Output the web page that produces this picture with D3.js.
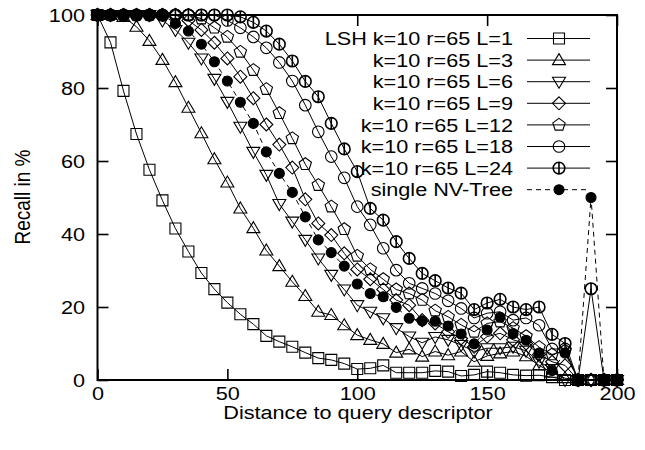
<!DOCTYPE html>
<html><head><meta charset="utf-8">
<script src="https://cdn.jsdelivr.net/npm/d3@7"></script>
<style>body{margin:0;background:#fff}svg{display:block}text{font-family:"Liberation Sans",Arial,sans-serif;fill:#000}</style>
</head><body><svg id="c" width="645" height="450"></svg>
<script>
const xs = d3.range(0, 201, 5);
const seriesNames = ["LSH k=10 r=65 L=1","k=10 r=65 L=3","k=10 r=65 L=6","k=10 r=65 L=9","k=10 r=65 L=12","k=10 r=65 L=18","k=10 r=65 L=24","single NV-Tree"];
const markers = ["square","triUp","triDown","diamond","pentagon","circle","circleBar","dot"];
const L1 = [100,92.5,79.2,67.4,57.6,49.2,41.5,35.2,29.3,24.9,21.2,18,15.3,12.1,10.5,9.1,7.5,6,5.5,4.5,3,3.2,4,2,2,2,2.5,2.3,1.1,1.4,2.3,2,1.4,1.2,1.3,0.8,0,0,0,0,0];
const L3 = [100,100,99.5,96.8,92.9,87.7,81.6,74.6,67.6,60.5,54.1,47,41.6,35.5,31.2,26.9,23,18.7,17.8,15,12.3,11,9.9,7.5,8.4,6.4,7.8,6.8,7.8,5,6.6,7.3,7.8,6.5,4,2,0.5,0,0,0,0];
const L6 = [100,100,100,100,100,98.5,95.9,92.4,88.1,82.5,76.2,69.4,62.5,56.2,48.2,43.4,38.4,33.3,28.8,24.8,20.5,18.7,16.9,14.2,11.9,10.2,11.8,11,9.6,7.8,8.7,8.7,9.1,8,5,3,0,0,0,0,0];
const L9 = [100,100,100,100,100,100,100,98.5,95.9,92.4,88.1,83.1,77.2,70,64.5,58.2,49.5,42.9,39.7,34.7,30.3,27.6,24.8,21.9,20.5,16.4,15.5,13.2,11.4,9.1,11.9,12.8,11,10,7,5,4,0,0,0,0];
const L12 = [100,100,100,100,100,100,100,100,99,96.5,94,89.9,84.9,79.7,73.1,66.2,59.1,53.4,47.5,41.3,34,30.3,27.6,24.8,23.7,21.9,19,17.3,15.1,13.2,15.5,16,14.2,12,9,7,8,0,0,0,0];
const L18 = [100,100,100,100,100,100,100,100,100,100,98.5,96.5,94,91,87,81.9,75.3,68,61.2,55.4,47.5,42.5,36.1,30.1,26.5,25.1,23.7,21.7,19.6,17,18.3,18.7,16.4,17,15,8.5,8.5,0,0,0,0];
const L24 = [100,100,100,100,100,100,100,100,100,100,100,99.5,98,95.6,92,87.4,81.8,77.6,70.3,63.3,57.1,47,43.8,37.9,33.3,29.2,27.2,25.2,23.8,19.3,21.1,22.1,20,19.3,20,12.5,10,0,25,0,0];
const NV = [100,100,100,100,100,100,97.7,95.6,92,87.2,81.9,76.1,70.3,62.5,56.6,51.4,44.7,38.4,34.9,31.2,26.3,23.7,22.8,19.9,16.9,16.2,16.1,14.8,12.6,9.9,13.7,17.2,12.7,10.9,7.4,2.6,7.4,0,50,0,0];
const allSeries = [L1,L3,L6,L9,L12,L18,L24,NV];
const xTicks = [0,50,100,150,200];
const yTicks = [0,20,40,60,80,100];
const xTitle = "Distance to query descriptor";
const yTitle = "Recall in %";

const SX = 1.14, FS = 19;
const svg = d3.select("#c");
const x = d3.scaleLinear().domain([0,200]).range([97.5,617]);
const y = d3.scaleLinear().domain([0,100]).range([380,15]);

function markerPath(t){
  switch(t){
    case "square": return "M-5.5,-5.5H5.5V5.5H-5.5Z";
    case "triUp": return "M0,-6.5L6.5,4.5L-6.5,4.5Z";
    case "triDown": return "M0,6.5L6.5,-4.5L-6.5,-4.5Z";
    case "diamond": return "M0,-6.5L6.5,0L0,6.5L-6.5,0Z";
    case "pentagon": { let p=[]; for(let i=0;i<5;i++){const a=-Math.PI/2+i*2*Math.PI/5; p.push([6.5*Math.cos(a),6.5*Math.sin(a)]);} return "M"+p.map(d=>d.join(",")).join("L")+"Z"; }
    case "circle": return "M5.8,0A5.8,5.8 0 1,1 -5.8,0A5.8,5.8 0 1,1 5.8,0Z";
    case "circleBar": return "M5.8,0A5.8,5.8 0 1,1 -5.8,0A5.8,5.8 0 1,1 5.8,0ZM0,-5.8V5.8";
    case "dot": return "M5,0A5,5 0 1,1 -5,0A5,5 0 1,1 5,0Z";
  }
}
function drawMarker(g, t, px, py){
  g.append("path").attr("d", markerPath(t)).attr("transform", `translate(${px},${py})`)
    .attr("fill", t==="dot" ? "#000" : "none").attr("stroke","#000")
    .attr("stroke-width", t==="circleBar" ? 1.6 : 1.1);
}

// series
const line = d3.line().x((d,i)=>x(xs[i])).y(d=>y(d));
allSeries.forEach((s,k)=>{
  const g = svg.append("g");
  g.append("path").attr("d", line(s)).attr("fill","none").attr("stroke","#000").attr("stroke-width",1)
    .attr("stroke-dasharray", k===7 ? "5,4" : null);
  s.forEach((v,i)=> drawMarker(g, markers[k], x(xs[i]), y(v)));
});

// frame
const fr = svg.append("g");
fr.append("rect").attr("x",97.5).attr("y",15).attr("width",617-97.5).attr("height",365)
  .attr("fill","none").attr("stroke","#000").attr("stroke-width",2);

// axes with inside ticks
const axB = svg.append("g").attr("transform","translate(0,380)")
  .call(d3.axisBottom(x).tickValues(xTicks).tickSizeInner(-11).tickSizeOuter(0).tickFormat(d3.format("d")));
const axT = svg.append("g").attr("transform","translate(0,15)")
  .call(d3.axisTop(x).tickValues(xTicks).tickSizeInner(-11).tickSizeOuter(0).tickFormat(""));
const axL = svg.append("g").attr("transform","translate(97.5,0)")
  .call(d3.axisLeft(y).tickValues(yTicks).tickSizeInner(-11).tickSizeOuter(0).tickFormat(d3.format("d")));
const axR = svg.append("g").attr("transform","translate(617,0)")
  .call(d3.axisRight(y).tickValues(yTicks).tickSizeInner(-11).tickSizeOuter(0).tickFormat(""));
[axB,axT,axL,axR].forEach(a=>{
  a.select(".domain").remove();
  a.selectAll(".tick line").attr("stroke","#000").attr("stroke-width",1.6);
});
axB.selectAll(".tick text").attr("x",null).attr("y",null).attr("dy","0.35em")
  .attr("transform",`translate(0,13) scale(${SX},1)`).attr("font-size",FS).attr("font-family",null).attr("text-anchor","middle");
axL.selectAll(".tick text").attr("x",null).attr("y",null).attr("dy","0.35em")
  .attr("transform",`translate(-12.5,0) scale(${SX},1)`).attr("font-size",FS).attr("font-family",null).attr("text-anchor","end");
axT.selectAll(".tick text").remove();
axR.selectAll(".tick text").remove();
svg.selectAll(".tick").attr("font-family",null);
svg.selectAll("g").attr("font-family",null).attr("font-size",null);

// titles
svg.append("text").attr("transform",`translate(358,412) scale(${SX},1)`).attr("dy","0.35em")
  .attr("text-anchor","middle").attr("font-size",FS).text(xTitle);
svg.append("text").attr("transform",`translate(22.5,197) scale(${SX},1) rotate(-90)`).attr("dy","0.35em")
  .attr("text-anchor","middle").attr("font-size",FS).text(yTitle);

// legend
const lg = svg.append("g");
seriesNames.forEach((n,k)=>{
  const yy = 38.5 + k*21.6;
  lg.append("text").attr("transform",`translate(513,${yy}) scale(${SX},1)`).attr("dy","0.35em")
    .attr("text-anchor","end").attr("font-size",FS).text(n);
  lg.append("line").attr("x1",527).attr("x2",590).attr("y1",yy).attr("y2",yy)
    .attr("stroke","#000").attr("stroke-width",1).attr("stroke-dasharray", k===7 ? "5,4" : null);
  drawMarker(lg, markers[k], 559, yy);
});
</script></body></html>
